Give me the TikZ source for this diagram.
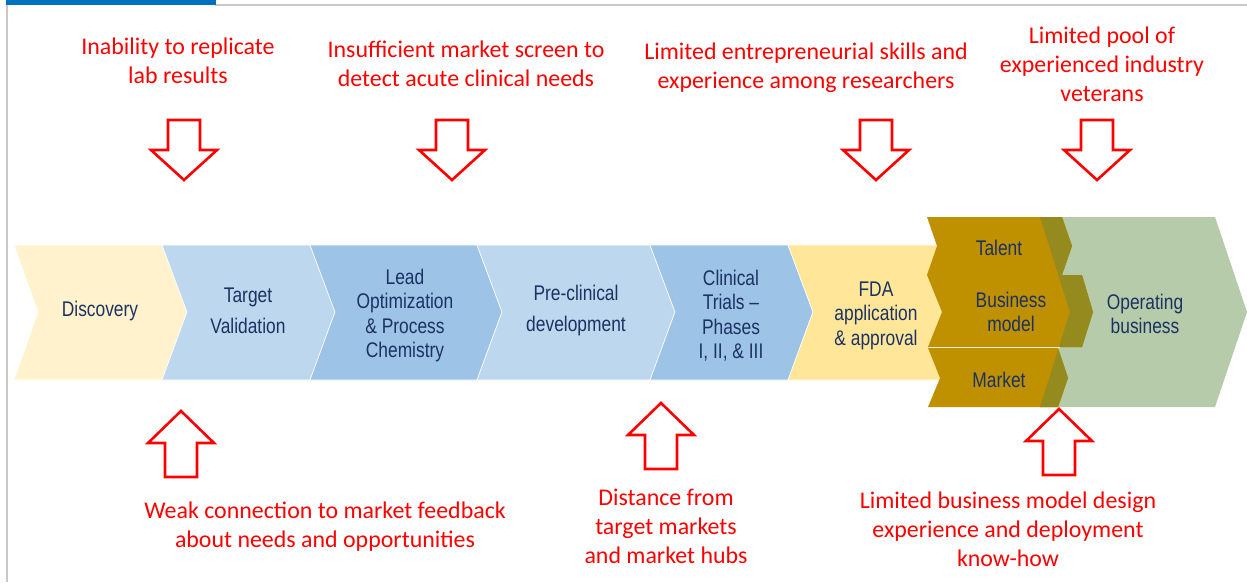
\documentclass[tikz,border=0pt]{standalone}
\usepackage{fontspec}
\setmainfont{Carlito}
\newfontfamily\narrowfont[FakeStretch=0.82]{Liberation Sans}
\definecolor{redc}{RGB}{255,0,0}
\definecolor{navy}{RGB}{28,50,98}
\definecolor{yelA}{RGB}{255,242,204}
\definecolor{bluA}{RGB}{189,215,238}
\definecolor{bluB}{RGB}{157,195,230}
\definecolor{yelB}{RGB}{255,230,153}
\definecolor{goldc}{RGB}{191,144,0}
\definecolor{olivec}{RGB}{148,138,30}
\definecolor{sagec}{RGB}{181,203,169}
\definecolor{framegray}{RGB}{200,200,200}
\definecolor{topblue}{RGB}{0,112,192}
\begin{document}
\begin{tikzpicture}[x=1pt,y=-1pt,
 redtxt/.style={text=redc, align=center, font=\fontsize{23.9}{29}\selectfont, inner sep=0pt},
 bluetxt/.style={text=navy, align=center, font=\narrowfont\fontsize{21.2}{24.5}\selectfont, inner sep=0pt},
 chev/.style={draw=white, line width=0.6pt},
 blk/.style={draw=redc, line width=2.6pt, fill=white, line join=miter},
 downblk/.pic={\path[blk] (-16,-30)--(16,-30)--(16,0)--(33,0)--(0,30)--(-33,0)--(-16,0)--cycle;},
 upblk/.pic={\path[blk] (-16,34)--(16,34)--(16,0)--(33,0)--(0,-32)--(-33,0)--(-16,0)--cycle;}
]
\useasboundingbox (0,0) rectangle (1247,582);
\fill[white] (0,0) rectangle (1247,582);
% frame
\fill[framegray] (6,4) rectangle (8,582);
\fill[framegray] (215,4) rectangle (1247,6);
\fill[topblue] (6,0) rectangle (216,5);

% process chevrons
\path[fill=yelA, chev] (14,245)--(162,245)--(187,312)--(162,380)--(14,380)--(38,312)--cycle;
\path[fill=bluA, chev] (162,245)--(310,245)--(335,312)--(310,380)--(162,380)--(187,312)--cycle;
\path[fill=bluB, chev] (310,245)--(477,245)--(502,312)--(477,380)--(310,380)--(335,312)--cycle;
\path[fill=bluA, chev] (477,245)--(650,245)--(675,312)--(650,380)--(477,380)--(502,312)--cycle;
\path[fill=bluB, chev] (650,245)--(788,245)--(813,312)--(788,380)--(650,380)--(675,312)--cycle;
\path[fill=yelB, chev] (788,245)--(942,245)--(967,312)--(942,380)--(788,380)--(813,312)--cycle;

% operating business chevron
\fill[sagec] (1040,217)--(1215,217)--(1247,312)--(1215,407)--(1040,407)--(1070,312)--cycle;

% gold chevrons
\fill[goldc] (927,217)--(1062,217)--(1072,246)--(1062,275)--(927,275)--(937,246)--cycle;
\fill[goldc] (927,275)--(1082,275)--(1093,312)--(1082,347)--(928,347)--(942,312)--cycle;
\fill[goldc] (928,348)--(1058,348)--(1068,378)--(1058,407)--(928,407)--(940,378)--cycle;
% overlaps
\begin{scope}
\clip (1040,217)--(1215,217)--(1247,312)--(1215,407)--(1040,407)--(1070,312)--cycle;
\fill[olivec] (927,217)--(1062,217)--(1072,246)--(1062,275)--(927,275)--(937,246)--cycle;
\fill[olivec] (927,275)--(1082,275)--(1093,312)--(1082,347)--(928,347)--(942,312)--cycle;
\fill[olivec] (928,348)--(1058,348)--(1068,378)--(1058,407)--(928,407)--(940,378)--cycle;
\end{scope}
\draw[white!85!goldc, line width=0.8pt] (929,347.5)--(1060,347.5);

% stage labels
\node[bluetxt] (disc) at (100,311) {Discovery};
\node[bluetxt] (tv) at (248,311) {Target\\[6.5pt]Validation};
\node[bluetxt] (lead) at (405,315.5) {Lead\\Optimization\\\& Process\\Chemistry};
\node[bluetxt] (pre) at (576,311) {Pre-clinical\\[6.5pt]development};
\node[bluetxt] (clin) at (731,315.5) {Clinical\\Trials –\\Phases\\I, II, \& III};
\node[bluetxt] (fda) at (876,315.5) {FDA\\application\\\& approval};
\node[bluetxt] (tal) at (999,248) {Talent};
\node[bluetxt] (bm) at (1011,312) {Business\\model};
\node[bluetxt] (mkt) at (999,380) {Market};
\node[bluetxt] (ob) at (1145,314) {Operating\\business};

% barrier labels
\node[redtxt] (r1) at (178,61) {Inability to replicate\\lab results};
\node[redtxt] (r2) at (466,64) {Insufficient market screen to\\detect acute clinical needs};
\node[redtxt] (r3) at (806,68) {Limited entrepreneurial skills and\\experience among researchers};
\node[redtxt] (r4) at (1102,64) {Limited pool of\\experienced industry\\veterans};
\node[redtxt] (r5) at (325,527) {Weak connection to market feedback\\about needs and opportunities};
\node[redtxt] (r6) at (666,526) {Distance from\\target markets\\and market hubs};
\node[redtxt] (r7) at (1008,529) {Limited business model design\\experience and deployment\\know-how};

% block arrows
\pic (a1) at (184,150) {downblk};
\pic (a2) at (452,150) {downblk};
\pic (a3) at (876,150) {downblk};
\pic (a4) at (1097,150) {downblk};
\pic (a5) at (181,443) {upblk};
\pic (a6) at (661,435) {upblk};
\pic (a7) at (1059,441) {upblk};
\end{tikzpicture}
\end{document}
